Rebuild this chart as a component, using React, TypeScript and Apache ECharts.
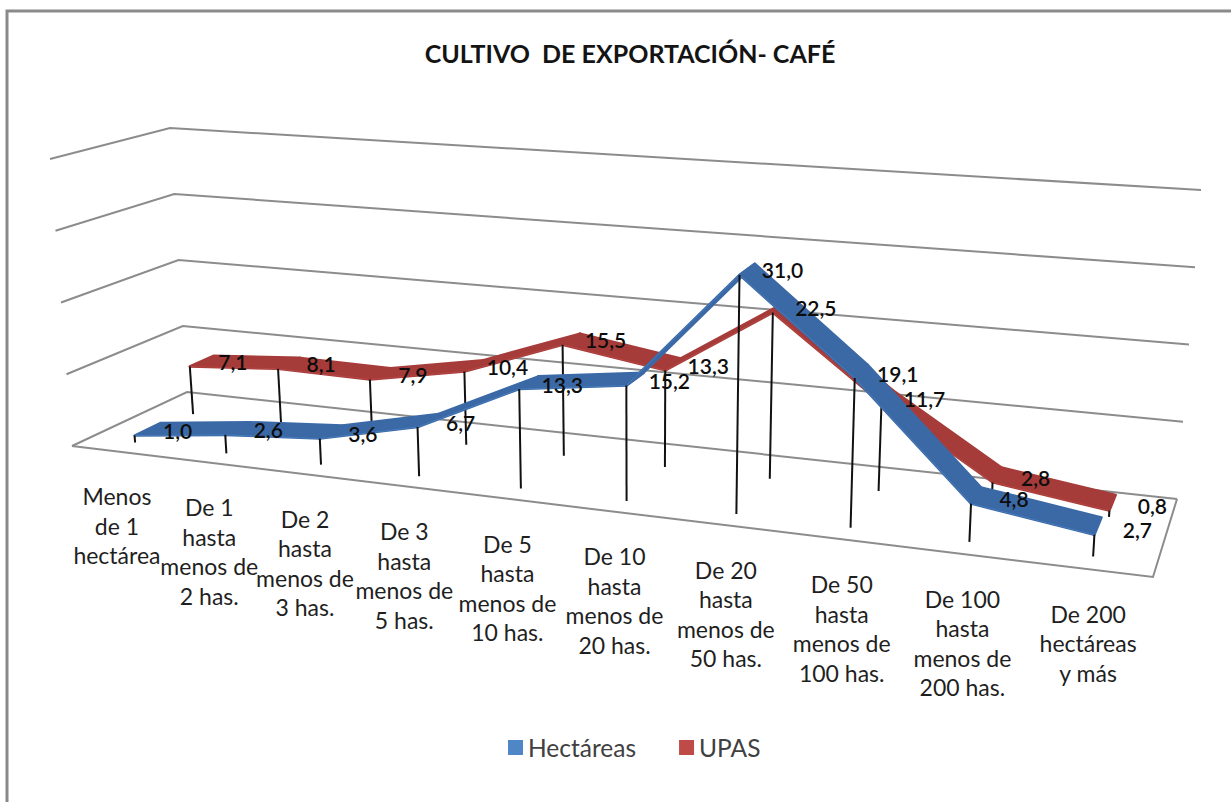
import React, { useEffect, useRef } from "react";
import * as echarts from "echarts";

const CATEGORIES = [
  "Menos\nde 1\nhectárea",
  "De 1\nhasta\nmenos de\n2 has.",
  "De 2\nhasta\nmenos de\n3 has.",
  "De 3\nhasta\nmenos de\n5 has.",
  "De 5\nhasta\nmenos de\n10 has.",
  "De 10\nhasta\nmenos de\n20 has.",
  "De 20\nhasta\nmenos de\n50 has.",
  "De 50\nhasta\nmenos de\n100 has.",
  "De 100\nhasta\nmenos de\n200 has.",
  "De 200\nhectáreas\ny más",
];
const HECTAREAS = [1.0, 2.6, 3.6, 6.7, 13.3, 15.2, 31.0, 19.1, 4.8, 2.7];
const UPAS = [7.1, 8.1, 7.9, 10.4, 15.5, 13.3, 22.5, 11.7, 2.8, 0.8];
const GRID_TICKS = [0, 10, 20, 30, 40];

const W = 1231;
const H = 802;
const FONT = "Lato, Carlito, Calibri, sans-serif";

type Pt = [number, number];
// Corners of the perspective box: front-left, front-right, back-right, back-left
const FLOOR: Pt[] = [[72, 446], [1153, 577], [1177, 499], [187, 392]];
const CEIL: Pt[] = [[50, 159], [1176, 241], [1201, 190], [170, 128]];

function homography(q: Pt[]) {
  const [[x0, y0], [x1, y1], [x2, y2], [x3, y3]] = q;
  const dx1 = x1 - x2, dx2 = x3 - x2, dy1 = y1 - y2, dy2 = y3 - y2;
  const sx = x0 - x1 + x2 - x3, sy = y0 - y1 + y2 - y3;
  const den = dx1 * dy2 - dx2 * dy1;
  const g = (sx * dy2 - dx2 * sy) / den;
  const h = (dx1 * sy - sx * dy1) / den;
  const a = x1 - x0 + g * x1, b = x3 - x0 + h * x3;
  const d = y1 - y0 + g * y1, e = y3 - y0 + h * y3;
  return (u: number, v: number): Pt => {
    const w = g * u + h * v + 1;
    return [(a * u + b * v + x0) / w, (d * u + e * v + y0) / w];
  };
}
const floorMap = homography(FLOOR);
const ceilMap = homography(CEIL);

// u: 0..1 across the categories, v: 0..1 in depth, t: 0..1 of the value axis
function project(u: number, v: number, t: number): Pt {
  const b = floorMap(u, v);
  const c = ceilMap(u, v);
  return [b[0] + (c[0] - b[0]) * t, b[1] + (c[1] - b[1]) * t];
}

// Plane position from the library's axes, then perspective projection.
// Verticals fan out slightly from the picture's centre.
function place(api: any, cat: number, val: number, v: number): Pt {
  const p = api.coord([cat, val]);
  const u = p[0] / api.getWidth();
  const t = (1 - p[1] / api.getHeight()) * 0.98;
  const b = floorMap(u, v);
  const q = project(u, v, t);
  return [b[0] + ((b[0] - 640) / 540) * 23 * t, q[1]];
}

function ribbonSeries(name: string, values: number[], v0: number, fill: string, edge: string) {
  const v1 = v0 + 0.22;
  return {
    name,
    type: "custom",
    silent: true,
    itemStyle: { color: edge },
    data: values.map((y, i) => [i, y]),
    encode: { x: 0, y: 1 },
    renderItem: (params: any, api: any) => {
      const i = params.dataIndex;
      const children: any[] = [];
      if (i < values.length - 1) {
        const a0 = place(api, i, values[i], v0);
        const a1 = place(api, i, values[i], v1);
        const b0 = place(api, i + 1, values[i + 1], v0);
        const b1 = place(api, i + 1, values[i + 1], v1);
        children.push({
          type: "polygon",
          shape: { points: [a0, b0, b1, a1] },
          style: { fill, stroke: fill, lineWidth: 2.5, lineJoin: "round" },
        });
        children.push({
          type: "line",
          shape: { x1: a0[0], y1: a0[1], x2: b0[0], y2: b0[1] },
          style: { stroke: edge, lineWidth: 1, opacity: 0.6 },
        });
      }
      const top = place(api, i, values[i], v0);
      const base = place(api, i, 0, v0);
      children.push({
        type: "line",
        shape: { x1: top[0], y1: top[1], x2: base[0], y2: base[1] },
        style: { stroke: "#111111", lineWidth: 2 },
      });
      return { type: "group", children };
    },
  };
}

function labelSeries(name: string, values: number[], v0: number) {
  return {
    name,
    type: "custom",
    silent: true,
    data: values.map((y, i) => [i, y]),
    encode: { x: 0, y: 1 },
    renderItem: (params: any, api: any) => {
      const i = params.dataIndex;
      const p = place(api, i, values[i], v0);
      return {
        type: "text",
        x: p[0] + 43,
        y: p[1] - 5,
        style: {
          text: values[i].toFixed(1).replace(".", ","),
          fill: "#0d0d0d",
          font: `600 21px ${FONT}`,
          align: "center",
          verticalAlign: "middle",
        },
      };
    },
  };
}

export default function App() {
  const ref = useRef<HTMLDivElement>(null);
  useEffect(() => {
    const chart = echarts.init(ref.current!, null, { renderer: "svg" });
    chart.setOption({
      animation: false,
      backgroundColor: "#ffffff",
      title: {
        text: "CULTIVO  DE EXPORTACIÓN- CAFÉ",
        left: 625,
        top: 35,
        textAlign: "center",
        textStyle: { fontFamily: FONT, fontWeight: "bold", fontSize: 25, color: "#141414" },
      },
      legend: {
        left: 503,
        top: 730,
        itemWidth: 15,
        itemHeight: 15,
        itemGap: 43,
        icon: "rect",
        data: ["Hectáreas", "UPAS"],
        textStyle: { fontFamily: FONT, fontSize: 24.5, color: "#404040" },
      },
      grid: { left: 0, top: 0, right: 0, bottom: 0 },
      xAxis: { type: "category", data: CATEGORIES, show: false },
      yAxis: { type: "value", min: 0, max: 40, interval: 10, show: false },
      graphic: [
        {
          type: "polyline",
          shape: { points: [[7, 802], [7, 11], [1231, 11]] },
          style: { stroke: "#8a8a8a", lineWidth: 3, fill: "none" },
          silent: true,
        },
      ],
      series: [
        {
          name: "Paredes",
          type: "custom",
          silent: true,
          data: GRID_TICKS.map((y) => [0, y]),
          encode: { x: 0, y: 1 },
          renderItem: (params: any, api: any) => {
            const val = GRID_TICKS[params.dataIndex];
            const pt = api.coord([0, val]);
            const t = 1 - pt[1] / api.getHeight();
            const fl = project(0, 0, t), bl = project(0, 1, t), br = project(1, 1, t);
            const children: any[] = [
              {
                type: "polyline",
                shape: { points: [fl, bl, br] },
                style: { stroke: "#8c8c8c", lineWidth: 2, fill: "none" },
              },
            ];
            if (val === 0) {
              children.push({
                type: "polyline",
                shape: { points: [fl, project(1, 0, 0), br] },
                style: { stroke: "#8c8c8c", lineWidth: 2, fill: "none" },
              });
            }
            return { type: "group", children };
          },
        },
        ribbonSeries("UPAS", UPAS, 0.66, "#A63C3A", "#BE4B48"),
        ribbonSeries("Hectáreas", HECTAREAS, 0.15, "#3B69A6", "#4F86C6"),
        labelSeries("Etiquetas UPAS", UPAS, 0.66),
        labelSeries("Etiquetas Hectáreas", HECTAREAS, 0.15),
        {
          name: "Categorías",
          type: "custom",
          silent: true,
          data: CATEGORIES.map((_, i) => [i, 0]),
          encode: { x: 0, y: 1 },
          renderItem: (params: any, api: any) => {
            const i = params.dataIndex;
            const p = place(api, i, 0, 0);
            return {
              type: "text",
              x: p[0],
              y: p[1] + 30,
              style: {
                text: CATEGORIES[i],
                fill: "#1f1f1f",
                font: `23px ${FONT}`,
                lineHeight: 29.5,
                align: "center",
                verticalAlign: "top",
              },
            };
          },
        },
      ],
    });
    return () => chart.dispose();
  }, []);
  return <div ref={ref} style={{ position: "absolute", left: 0, top: 0, width: W, height: H }} />;
}
